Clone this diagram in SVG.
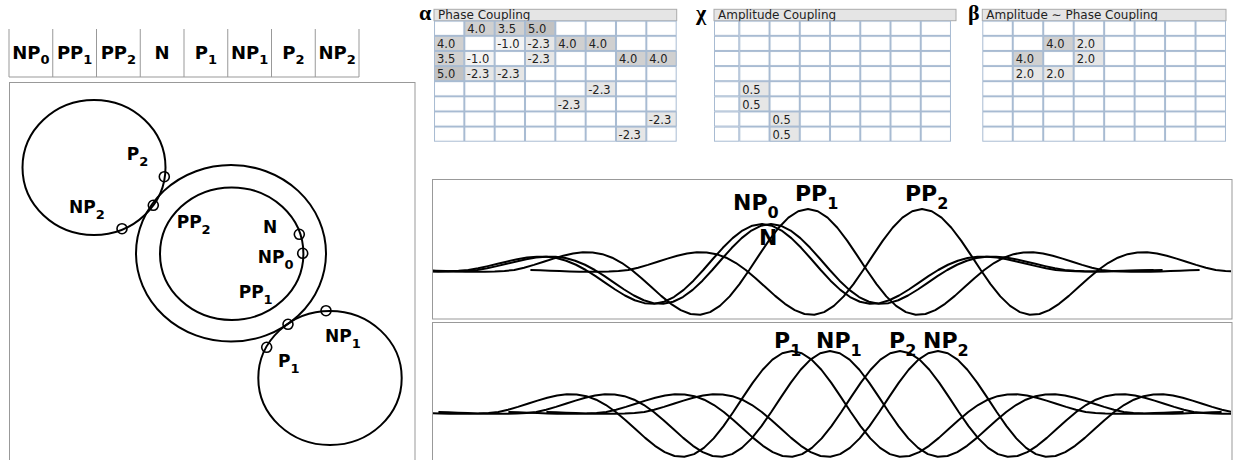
<svg xmlns="http://www.w3.org/2000/svg" width="1235" height="460" viewBox="0 0 1235 460">
<style>
.lbl{font-family:"DejaVu Sans",Verdana,sans-serif;font-weight:bold;fill:#000}
.hd{font-size:18px}
.cl{font-size:17px}
.wl{font-size:22px}
.th{font-family:"DejaVu Sans",Verdana,sans-serif;font-size:12px;fill:#222}
.tv{font-family:"DejaVu Sans",Verdana,sans-serif;font-size:11.5px;fill:#222}
.greek{font-family:"Liberation Serif","DejaVu Serif",serif;font-size:22px;font-weight:bold;fill:#000}
.frame{fill:none;stroke:#999;stroke-width:1}
.ring{fill:none;stroke:#000;stroke-width:2}
.dot{fill:none;stroke:#000;stroke-width:1.6}
.cell{stroke:#a8bbd2;stroke-width:1}
.dk{fill:#d0d0d0}.dk2{fill:#c2c2c2}.lt{fill:#e6e6e6}.vl{fill:#f3f3f3}
.thb{fill:#e5e5e5;stroke:#aaa;stroke-width:1}
.sep{stroke:#999;stroke-width:1}
</style>
<defs>
<polyline id="wv" fill="none" stroke="#000" stroke-width="2" stroke-linejoin="round" vector-effect="non-scaling-stroke" points="-40,0 -39,0.6 -38,1.2 -37,1.8 -36,2.4 -35,2.8 -34,3 -33,3 -32,2.5 -31,1.5 -30,0 -29,-3.83 -28,-8.42 -27,-13.49 -26,-18.64 -25,-23.34 -24,-27.01 -23,-29.03 -22,-28.83 -21,-25.96 -20,-20.15 -19,-11.4 -18,0 -17,13.42 -16,27.95 -15,42.41 -14,55.48 -13,65.79 -12,72.09 -11,73.37 -10,69 -9,58.82 -8,43.23 -7,23.15 -6,0 -5,-24.45 -4,-48.21 -3,-69.28 -2,-85.82 -1,-96.37 0,-100 1,-96.37 2,-85.82 3,-69.28 4,-48.21 5,-24.45 6,0 7,23.15 8,43.23 9,58.82 10,69 11,73.37 12,72.09 13,65.79 14,55.48 15,42.41 16,27.95 17,13.42 18,0 19,-11.4 20,-20.15 21,-25.96 22,-28.83 23,-29.03 24,-27.01 25,-23.34 26,-18.64 27,-13.49 28,-8.42 29,-3.83 30,0 31,1.5 32,2.5 33,3 34,3 35,2.8 36,2.4 37,1.8 38,1.2 39,0.6 40,0"/>
<pattern id="g1" patternUnits="userSpaceOnUse" x="434" y="20.7" width="30.333" height="15.125"><rect x="0.5" y="0.5" width="29.333" height="14.125" fill="#fff" class="cell"/></pattern>
<pattern id="g2" patternUnits="userSpaceOnUse" x="739.3" y="20.7" width="30.243" height="15.125"><rect x="0.5" y="0.5" width="29.243" height="14.125" fill="#fff" class="cell"/></pattern>
<pattern id="g3" patternUnits="userSpaceOnUse" x="982.3" y="20.7" width="30.4625" height="15.125"><rect x="0.5" y="0.5" width="29.4625" height="14.125" fill="#fff" class="cell"/></pattern>
<clipPath id="c1"><rect x="433" y="180" width="798" height="138"/></clipPath>
<clipPath id="c2"><rect x="433" y="323" width="798" height="137"/></clipPath>
</defs>

<g id="legend-row">
<line class="sep" x1="9" y1="77" x2="359" y2="77"/>
<line class="sep" x1="9" y1="29" x2="9" y2="77"/>
<line class="sep" x1="52.75" y1="29" x2="52.75" y2="77"/>
<line class="sep" x1="96.5" y1="29" x2="96.5" y2="77"/>
<line class="sep" x1="140.25" y1="29" x2="140.25" y2="77"/>
<line class="sep" x1="184" y1="29" x2="184" y2="77"/>
<line class="sep" x1="227.75" y1="29" x2="227.75" y2="77"/>
<line class="sep" x1="271.5" y1="29" x2="271.5" y2="77"/>
<line class="sep" x1="315.25" y1="29" x2="315.25" y2="77"/>
<line class="sep" x1="359" y1="29" x2="359" y2="77"/>
<text class="lbl hd" x="30.9" y="59" text-anchor="middle">NP<tspan font-size="13" dy="5">0</tspan></text>
<text class="lbl hd" x="74.6" y="59" text-anchor="middle">PP<tspan font-size="13" dy="5">1</tspan></text>
<text class="lbl hd" x="118.4" y="59" text-anchor="middle">PP<tspan font-size="13" dy="5">2</tspan></text>
<text class="lbl hd" x="162.1" y="59" text-anchor="middle">N</text>
<text class="lbl hd" x="205.9" y="59" text-anchor="middle">P<tspan font-size="13" dy="5">1</tspan></text>
<text class="lbl hd" x="249.6" y="59" text-anchor="middle">NP<tspan font-size="13" dy="5">1</tspan></text>
<text class="lbl hd" x="293.4" y="59" text-anchor="middle">P<tspan font-size="13" dy="5">2</tspan></text>
<text class="lbl hd" x="337.1" y="59" text-anchor="middle">NP<tspan font-size="13" dy="5">2</tspan></text>
</g>

<g id="circle-panel">
<rect class="frame" x="9.5" y="82.5" width="405.5" height="400"/>
<g id="ring-p2"><ellipse class="ring" cx="94" cy="167.5" rx="71.5" ry="67.5"/></g>
<g id="ring-outer"><ellipse class="ring" cx="231" cy="253.3" rx="95" ry="88.3"/></g>
<g id="ring-inner"><ellipse class="ring" cx="231.7" cy="253.7" rx="71.7" ry="66.3"/></g>
<g id="ring-p1"><ellipse class="ring" cx="330" cy="378" rx="71.7" ry="67"/></g>
<g id="markers">
<circle class="dot" cx="164.3" cy="176.7" r="5"/>
<circle class="dot" cx="153.3" cy="205.3" r="5"/>
<circle class="dot" cx="122" cy="228.7" r="5"/>
<circle class="dot" cx="299.3" cy="234.3" r="5"/>
<circle class="dot" cx="302.7" cy="253.3" r="5"/>
<circle class="dot" cx="288" cy="324.3" r="5"/>
<circle class="dot" cx="326" cy="310.7" r="5"/>
<circle class="dot" cx="266.7" cy="347.3" r="5"/>
</g>
<text class="lbl cl" x="126.7" y="160">P<tspan font-size="13" dy="6">2</tspan></text>
<text class="lbl cl" x="69" y="213">NP<tspan font-size="13" dy="6">2</tspan></text>
<text class="lbl cl" x="176.7" y="228">PP<tspan font-size="13" dy="6">2</tspan></text>
<text class="lbl cl" x="263" y="233">N</text>
<text class="lbl cl" x="257.7" y="263">NP<tspan font-size="13" dy="6">0</tspan></text>
<text class="lbl cl" x="238.7" y="298">PP<tspan font-size="13" dy="6">1</tspan></text>
<text class="lbl cl" x="325" y="342">NP<tspan font-size="13" dy="6">1</tspan></text>
<text class="lbl cl" x="278" y="367">P<tspan font-size="13" dy="6">1</tspan></text>
</g>

<g id="table-phase">
<text class="greek" x="419" y="20">α</text>
<rect class="thb" x="434" y="9.3" width="242.7" height="11.4"/>
<text class="th" x="438" y="19">Phase Coupling</text>
<rect x="434" y="20.7" width="242.67" height="121" fill="url(#g1)"/>
<rect class="cell dk" x="464.83" y="21.2" width="29.33" height="14.125"/><text class="tv" x="467.3" y="33">4.0</text>
<rect class="cell dk" x="495.17" y="21.2" width="29.33" height="14.125"/><text class="tv" x="497.7" y="33">3.5</text>
<rect class="cell dk2" x="525.5" y="21.2" width="29.33" height="14.125"/><text class="tv" x="528" y="33">5.0</text>
<rect class="cell dk" x="434.5" y="36.33" width="29.33" height="14.125"/><text class="tv" x="437" y="48.1">4.0</text>
<rect class="cell vl" x="495.17" y="36.33" width="29.33" height="14.125"/><text class="tv" x="497.2" y="48.1">-1.0</text>
<rect class="cell lt" x="525.5" y="36.33" width="29.33" height="14.125"/><text class="tv" x="527.5" y="48.1">-2.3</text>
<rect class="cell dk" x="555.83" y="36.33" width="29.33" height="14.125"/><text class="tv" x="558.3" y="48.1">4.0</text>
<rect class="cell dk" x="586.17" y="36.33" width="29.33" height="14.125"/><text class="tv" x="588.7" y="48.1">4.0</text>
<rect class="cell dk" x="434.5" y="51.45" width="29.33" height="14.125"/><text class="tv" x="437" y="63.2">3.5</text>
<rect class="cell vl" x="464.83" y="51.45" width="29.33" height="14.125"/><text class="tv" x="466.8" y="63.2">-1.0</text>
<rect class="cell lt" x="525.5" y="51.45" width="29.33" height="14.125"/><text class="tv" x="527.5" y="63.2">-2.3</text>
<rect class="cell dk" x="616.5" y="51.45" width="29.33" height="14.125"/><text class="tv" x="619" y="63.2">4.0</text>
<rect class="cell dk" x="646.83" y="51.45" width="29.33" height="14.125"/><text class="tv" x="649.3" y="63.2">4.0</text>
<rect class="cell dk2" x="434.5" y="66.58" width="29.33" height="14.125"/><text class="tv" x="437" y="78.4">5.0</text>
<rect class="cell lt" x="464.83" y="66.58" width="29.33" height="14.125"/><text class="tv" x="466.8" y="78.4">-2.3</text>
<rect class="cell lt" x="495.17" y="66.58" width="29.33" height="14.125"/><text class="tv" x="497.2" y="78.4">-2.3</text>
<rect class="cell lt" x="586.17" y="81.7" width="29.33" height="14.125"/><text class="tv" x="588.2" y="93.5">-2.3</text>
<rect class="cell lt" x="555.83" y="96.83" width="29.33" height="14.125"/><text class="tv" x="557.8" y="108.6">-2.3</text>
<rect class="cell lt" x="646.83" y="111.95" width="29.33" height="14.125"/><text class="tv" x="648.8" y="123.7">-2.3</text>
<rect class="cell lt" x="616.5" y="127.08" width="29.33" height="14.125"/><text class="tv" x="618.5" y="138.9">-2.3</text>
</g>

<g id="table-amplitude">
<text class="greek" x="696" y="20">χ</text>
<rect class="thb" x="714" y="9.3" width="242" height="11.4"/>
<text class="th" x="718" y="19">Amplitude Coupling</text>
<g fill="#fff" class="cell">
<rect x="714.5" y="21.2" width="24.3" height="14.125"/>
<rect x="714.5" y="36.33" width="24.3" height="14.125"/>
<rect x="714.5" y="51.45" width="24.3" height="14.125"/>
<rect x="714.5" y="66.58" width="24.3" height="14.125"/>
<rect x="714.5" y="81.7" width="24.3" height="14.125"/>
<rect x="714.5" y="96.83" width="24.3" height="14.125"/>
<rect x="714.5" y="111.95" width="24.3" height="14.125"/>
<rect x="714.5" y="127.08" width="24.3" height="14.125"/>
</g>
<rect x="739.3" y="20.7" width="211.7" height="121" fill="url(#g2)"/>
<rect class="cell lt" x="739.8" y="81.7" width="29.24" height="14.125"/><text class="tv" x="742.3" y="93.5">0.5</text>
<rect class="cell lt" x="739.8" y="96.83" width="29.24" height="14.125"/><text class="tv" x="742.3" y="108.6">0.5</text>
<rect class="cell lt" x="770.04" y="111.95" width="29.24" height="14.125"/><text class="tv" x="772.5" y="123.7">0.5</text>
<rect class="cell lt" x="770.04" y="127.08" width="29.24" height="14.125"/><text class="tv" x="772.5" y="138.9">0.5</text>
</g>

<g id="table-amp-phase">
<text class="greek" x="968" y="20">β</text>
<rect class="thb" x="982.3" y="9.3" width="243.7" height="11.4"/>
<text class="th" x="986.3" y="19">Amplitude ∼ Phase Coupling</text>
<rect x="982.3" y="20.7" width="243.7" height="121" fill="url(#g3)"/>
<rect class="cell dk" x="1043.7" y="36.33" width="29.46" height="14.125"/><text class="tv" x="1046.2" y="48.1">4.0</text>
<rect class="cell lt" x="1074.2" y="36.33" width="29.46" height="14.125"/><text class="tv" x="1076.7" y="48.1">2.0</text>
<rect class="cell dk" x="1013.3" y="51.45" width="29.46" height="14.125"/><text class="tv" x="1015.8" y="63.2">4.0</text>
<rect class="cell lt" x="1074.2" y="51.45" width="29.46" height="14.125"/><text class="tv" x="1076.7" y="63.2">2.0</text>
<rect class="cell lt" x="1013.3" y="66.58" width="29.46" height="14.125"/><text class="tv" x="1015.8" y="78.4">2.0</text>
<rect class="cell lt" x="1043.7" y="66.58" width="29.46" height="14.125"/><text class="tv" x="1046.2" y="78.4">2.0</text>
</g>

<g id="wave-panel-top">
<rect class="frame" x="432.5" y="179.5" width="799.5" height="139.5"/>
<g clip-path="url(#c1)">
<use href="#wv" transform="translate(762,270) scale(9.79,0.46)"/>
<use href="#wv" transform="translate(771,270) scale(9.79,0.46)"/>
<use href="#wv" transform="translate(808,270) scale(9.79,0.61)"/>
<use href="#wv" transform="translate(922,270) scale(9.79,0.61)"/>
</g>
<text class="lbl wl" x="733" y="210">NP<tspan font-size="16" dy="8">0</tspan></text>
<text class="lbl wl" x="795" y="201">PP<tspan font-size="16" dy="7.5">1</tspan></text>
<text class="lbl wl" x="905" y="201">PP<tspan font-size="16" dy="7.5">2</tspan></text>
<text class="lbl wl" x="759" y="245">N</text>
</g>

<g id="wave-panel-bottom">
<rect class="frame" x="432.5" y="322.5" width="799.5" height="150"/>
<g clip-path="url(#c2)">
<use href="#wv" transform="translate(792,412) scale(9.79,0.61)"/>
<use href="#wv" transform="translate(830,412) scale(9.79,0.61)"/>
<use href="#wv" transform="translate(900,412) scale(9.79,0.61)"/>
<use href="#wv" transform="translate(938,412) scale(9.79,0.61)"/>
</g>
<text class="lbl wl" x="774" y="348">P<tspan font-size="16" dy="7.5">1</tspan></text>
<text class="lbl wl" x="816" y="348">NP<tspan font-size="16" dy="7.5">1</tspan></text>
<text class="lbl wl" x="889" y="348">P<tspan font-size="16" dy="7.5">2</tspan></text>
<text class="lbl wl" x="923" y="348">NP<tspan font-size="16" dy="7.5">2</tspan></text>
</g>
</svg>
